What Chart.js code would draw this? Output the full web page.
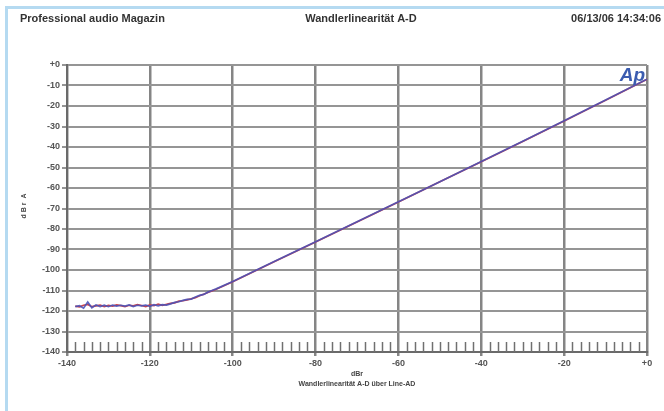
<!DOCTYPE html>
<html>
<head>
<meta charset="utf-8">
<script src="https://cdn.jsdelivr.net/npm/chart.js@4/dist/chart.umd.min.js"></script>
<style>
  html, body { margin: 0; padding: 0; background: #ffffff; }
  #wrap { width: 664px; height: 411px; position: relative; }
</style>
</head>
<body>
<div id="wrap"><canvas id="c" width="664" height="411"></canvas></div>
<script>
// Header and axis texts
const headerLeft = 'Professional audio Magazin';
const headerCenter = 'Wandlerlinearität A-D';
const headerRight = '06/13/06 14:34:06';
const xAxisTitle = 'dBr';
const xAxisCaption = 'Wandlerlinearität A-D über Line-AD';
const yAxisTitle = 'd B r  A';
const logoText = 'Ap';

// Tick labels
const xTickValues = [-140, -120, -100, -80, -60, -40, -20, 0];
const yTickValues = [0, -10, -20, -30, -40, -50, -60, -70, -80, -90, -100, -110, -120, -130, -140];

// Input level (dBr) and measured output of both channels (dBr A)
const inputLevel = [
  -138, -137, -136, -135, -134, -133, -132, -131, -130, -129,
  -128, -127, -126, -125, -124, -123, -122, -121, -120, -119,
  -118, -117, -116, -115, -114, -113, -112, -111, -110, -109,
  -108, -107, -106, -105, -104,
  -100, -90, -80, -70, -60, -50, -40, -30, -20, -10, 0
];
const outputLeft = [
  -117.6, -118.0, -117.2, -116.8, -117.9, -117.5, -117.1, -117.8, -117.3, -117.6,
  -117.0, -117.4, -117.9, -117.2, -117.5, -116.9, -117.3, -117.8, -117.0, -117.4,
  -116.6, -117.2, -116.8, -116.3, -116.0, -115.2, -115.0, -114.6, -114.0, -113.5,
  -112.6, -111.8, -111.0, -110.2, -109.4,
  -105.7, -96.0, -86.3, -76.6, -66.8, -57.0, -47.2, -37.3, -27.3, -17.2, -7.0
];
const outputRight = [
  -117.9, -117.4, -118.6, -115.6, -118.4, -117.0, -117.8, -117.2, -117.9, -117.1,
  -117.6, -117.2, -117.6, -117.0, -117.8, -117.2, -117.5, -117.1, -117.7, -116.9,
  -117.5, -116.9, -117.1, -116.5, -115.8, -115.5, -114.8, -114.3, -114.2, -113.2,
  -112.4, -111.9, -110.8, -110.0, -109.2,
  -105.6, -95.9, -86.2, -76.5, -66.7, -56.9, -47.1, -37.2, -27.2, -17.1, -6.9
];

const toPoints = (ys) => inputLevel.map((x, i) => ({ x: x, y: ys[i] }));
const fmt = (v) => (v === 0 ? '+0' : String(v));

const tickFont = { family: 'Liberation Sans', size: 9, weight: 'bold' };

// Page decoration, header, axis captions, minor ticks and logo
const decorations = {
  id: 'decorations',
  beforeDraw(chart) {
    const ctx = chart.ctx;
    ctx.save();
    ctx.fillStyle = '#ffffff';
    ctx.fillRect(0, 0, chart.width, chart.height);
    ctx.strokeStyle = '#b5daf1';
    ctx.lineWidth = 3;
    ctx.beginPath();
    ctx.moveTo(6.5, 411);
    ctx.lineTo(6.5, 7.5);
    ctx.lineTo(664, 7.5);
    ctx.stroke();
    ctx.restore();
  },
  afterDraw(chart) {
    const ctx = chart.ctx;
    const area = chart.chartArea;
    const xs = chart.scales.x;
    ctx.save();

    // header row
    ctx.fillStyle = '#333333';
    ctx.font = 'bold 11px "Liberation Sans"';
    ctx.textBaseline = 'middle';
    ctx.textAlign = 'left';
    ctx.fillText(headerLeft, 20, 19);
    ctx.textAlign = 'center';
    ctx.fillText(headerCenter, 361, 19);
    ctx.textAlign = 'right';
    ctx.fillText(headerRight, 661, 19);

    // minor ticks along the bottom axis, every 2 dB
    ctx.strokeStyle = '#707070';
    ctx.lineWidth = 1.5;
    for (let v = xs.min + 2; v < xs.max; v += 2) {
      if (v % 20 === 0) continue;
      const px = Math.round(xs.getPixelForValue(v)) + 0.5;
      ctx.beginPath();
      ctx.moveTo(px, area.bottom);
      ctx.lineTo(px, area.bottom - 10);
      ctx.stroke();
    }

    // x axis captions
    ctx.fillStyle = '#444444';
    ctx.textAlign = 'center';
    ctx.font = 'bold 7px "Liberation Sans"';
    ctx.fillText(xAxisTitle, (area.left + area.right) / 2, 374);
    ctx.fillText(xAxisCaption, (area.left + area.right) / 2, 384);

    // y axis caption
    ctx.translate(24, 206);
    ctx.rotate(-Math.PI / 2);
    ctx.font = 'bold 7px "Liberation Sans"';
    ctx.fillText(yAxisTitle, 0, 0);
    ctx.restore();

    // logo
    ctx.save();
    ctx.fillStyle = '#3b5cb0';
    ctx.font = 'italic bold 19px "Liberation Sans"';
    ctx.textAlign = 'right';
    ctx.textBaseline = 'middle';
    ctx.fillText(logoText, area.right - 2, area.top + 11);
    ctx.restore();
  }
};

new Chart(document.getElementById('c'), {
  type: 'line',
  data: {
    datasets: [
      {
        label: 'Right',
        data: toPoints(outputRight),
        borderColor: 'rgba(72, 82, 184, 0.88)',
        borderWidth: 1.7,
        pointRadius: 0,
        tension: 0
      },
      {
        label: 'Left',
        data: toPoints(outputLeft),
        borderColor: '#c9444e',
        borderWidth: 1.7,
        pointRadius: 0,
        tension: 0
      }
    ]
  },
  options: {
    responsive: false,
    animation: false,
    layout: { padding: { left: 0, right: 17, top: 65, bottom: 0 } },
    plugins: { legend: { display: false }, tooltip: { enabled: false } },
    scales: {
      x: {
        type: 'linear',
        min: -140,
        max: 0,
        afterBuildTicks(scale) { scale.ticks = xTickValues.map(v => ({ value: v })); },
        afterFit(scale) { scale.height = 59; },
        ticks: { callback: fmt, font: tickFont, color: '#555555', padding: 2, maxRotation: 0 },
        grid: { color: '#858585', lineWidth: 2.5, tickLength: 4 },
        border: { display: true, color: '#6a6a6a', width: 2 }
      },
      y: {
        type: 'linear',
        min: -140,
        max: 0,
        afterBuildTicks(scale) { scale.ticks = yTickValues.map(v => ({ value: v })); },
        afterFit(scale) { scale.width = 67; },
        ticks: { callback: fmt, font: tickFont, color: '#555555', padding: 2 },
        grid: { color: '#959595', lineWidth: 2, tickLength: 5 },
        border: { display: true, color: '#6a6a6a', width: 2 }
      }
    }
  },
  plugins: [decorations]
});
</script>
</body>
</html>
